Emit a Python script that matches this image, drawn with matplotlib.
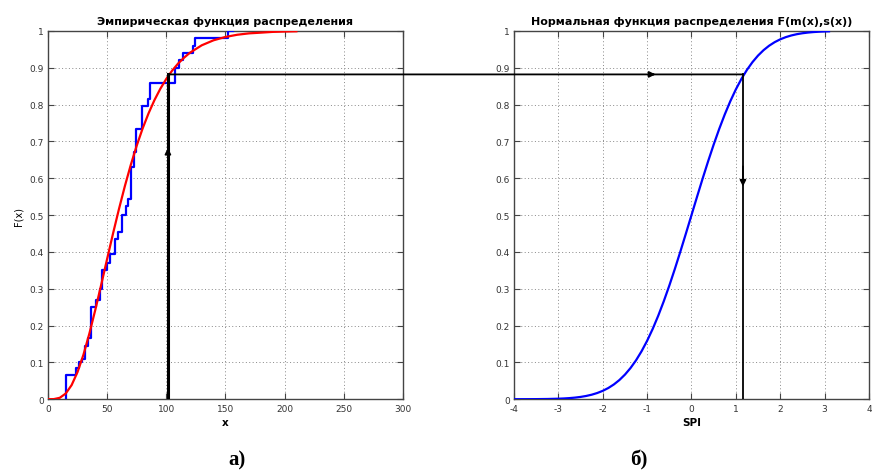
import numpy as np
import matplotlib.pyplot as plt
from matplotlib.patches import ConnectionPatch

plt.rcParams['axes.unicode_minus'] = False

# Эмпирическая функция распределения: ступени (x, уровень после скачка)
emp_x = [15.2, 23.7, 26.5, 28.5, 31.3, 34.1, 36.3, 41.0, 43.9, 45.3, 50.1, 52.4,
         56.6, 59.4, 62.2, 65.6, 67.9, 70.2, 72.5, 74.4, 79.2, 84.8, 86.2,
         107.4, 111.0, 114.5, 122.8, 124.3, 152.5]
emp_F = [0.065, 0.084, 0.100, 0.110, 0.145, 0.165, 0.250, 0.270, 0.300, 0.350, 0.370, 0.395,
         0.435, 0.455, 0.500, 0.525, 0.545, 0.630, 0.670, 0.734, 0.795, 0.815, 0.858,
         0.899, 0.920, 0.940, 0.958, 0.980, 1.000]

# Теоретическая (красная) кривая
fit_x = [0, 5, 10, 15, 20, 25, 30, 35, 40, 45, 50, 55, 60, 65, 70, 75, 80, 85, 90, 95,
         100, 105, 110, 115, 120, 130, 140, 150, 160, 170, 180, 190, 200, 210]
fit_F = [0.0, 0.0003, 0.0038, 0.0154, 0.0383, 0.0738, 0.1208, 0.1782, 0.2424, 0.3108,
         0.3807, 0.4499, 0.5162, 0.5786, 0.6362, 0.6883, 0.7350, 0.7761, 0.8121, 0.8431,
         0.8697, 0.8924, 0.9115, 0.9273, 0.9409, 0.9611, 0.9747, 0.9837, 0.9897, 0.9935,
         0.9954, 0.9975, 0.9984, 0.9991]

# Нормальная функция распределения (правый график)
spi_x = [-4, -3.75, -3.5, -3.25, -3, -2.875, -2.75, -2.625, -2.5, -2.375, -2.25, -2.125,
         -2, -1.875, -1.75, -1.625, -1.5, -1.375, -1.25, -1.125, -1, -0.875, -0.75,
         -0.625, -0.5, -0.375, -0.25, -0.125, 0, 0.125, 0.25, 0.375, 0.5, 0.625, 0.75,
         0.875, 1, 1.125, 1.25, 1.375, 1.5, 1.625, 1.75, 1.875, 2, 2.125, 2.25, 2.375,
         2.5, 2.625, 2.75, 2.875, 3, 3.1]
spi_F = [0.00003, 0.00009, 0.00023, 0.00058, 0.00135, 0.00202, 0.00298, 0.00433, 0.00621,
         0.00877, 0.01222, 0.01679, 0.02275, 0.03040, 0.04006, 0.05208, 0.06681, 0.08457,
         0.10565, 0.13029, 0.15866, 0.19079, 0.22663, 0.26599, 0.30854, 0.35383, 0.40129,
         0.45026, 0.5, 0.54974, 0.59871, 0.64617, 0.69146, 0.73401, 0.77337, 0.80921,
         0.84134, 0.86971, 0.89435, 0.91543, 0.93319, 0.94792, 0.95994, 0.96960, 0.97725,
         0.98321, 0.98778, 0.99123, 0.99379, 0.99567, 0.99702, 0.99798, 0.99865, 0.99903]

# точка перехода
x_emp = 101.4
F_lvl = 0.882
x_spi = 1.16

fig = plt.figure(figsize=(8.72, 4.77), dpi=100)
ax1 = fig.add_axes([0.055, 0.161, 0.407, 0.772])
ax2 = fig.add_axes([0.5895, 0.161, 0.407, 0.772])


def style(ax):
    ax.grid(True, linestyle=(0, (1, 2.5)), color='#888888', linewidth=0.7)
    ax.tick_params(direction='in', top=True, right=True, length=4,
                   labelsize=6.5, labelcolor='#333333', color='#444444')
    ax.tick_params(axis='x', pad=3.5)
    ax.tick_params(axis='y', pad=3)
    for s in ax.spines.values():
        s.set_color('#444444')
        s.set_linewidth(1.0)
    ax.set_ylim(0, 1)
    ax.set_yticks(np.arange(0, 1.01, 0.1))
    ax.set_yticklabels(['0', '0.1', '0.2', '0.3', '0.4', '0.5', '0.6', '0.7', '0.8', '0.9', '1'])


# --- а) ---
style(ax1)
ax1.set_xlim(0, 300)
ax1.set_xticks(np.arange(0, 301, 50))
stx = [emp_x[0]] + emp_x + [156]
stF = [0.0] + emp_F + [1.0]
ax1.step(stx, stF, where='post', color='#0000ff', lw=1.6, zorder=3)
ax1.plot(fit_x, fit_F, color='#ff0000', lw=1.6, zorder=4)
ax1.plot([x_emp, x_emp], [0, F_lvl], color='k', lw=2.2, zorder=5)
ax1.annotate('', xy=(x_emp, 0.69), xytext=(x_emp, 0.62),
             arrowprops=dict(arrowstyle='-|>', color='k', lw=1.2, mutation_scale=9), zorder=6)
ax1.set_title('Эмпирическая функция распределения', fontsize=8, fontweight='bold', pad=5)
ax1.set_xlabel('x', fontsize=7.5, fontweight='bold', labelpad=3)
ax1.set_ylabel('F(x)', fontsize=7, labelpad=4)

# --- б) ---
style(ax2)
ax2.set_xlim(-4, 4)
ax2.set_xticks(np.arange(-4, 5, 1))
ax2.plot(spi_x, spi_F, color='#0000ff', lw=1.6, zorder=3)
ax2.plot([x_spi, x_spi], [F_lvl, 0], color='k', lw=1.3, zorder=5)
ax2.annotate('', xy=(x_spi, 0.57), xytext=(x_spi, 0.64),
             arrowprops=dict(arrowstyle='-|>', color='k', lw=1.2, mutation_scale=9), zorder=6)
ax2.annotate('', xy=(-0.75, F_lvl), xytext=(-0.95, F_lvl),
             arrowprops=dict(arrowstyle='-|>', color='k', lw=1.2, mutation_scale=9), zorder=6)
ax2.set_title('Нормальная функция распределения F(m(x),s(x))', fontsize=8, fontweight='bold', pad=5)
ax2.set_xlabel('SPI', fontsize=7.5, fontweight='bold', labelpad=3)

# горизонтальная линия между графиками
con = ConnectionPatch(xyA=(x_emp, F_lvl), coordsA=ax1.transData,
                      xyB=(x_spi, F_lvl), coordsB=ax2.transData,
                      color='k', lw=1.3, zorder=10)
fig.add_artist(con)

fig.text(0.272, 0.025, 'а)', fontsize=15, fontweight='bold', family='Liberation Serif', ha='center')
fig.text(0.733, 0.025, 'б)', fontsize=15, fontweight='bold', family='Liberation Serif', ha='center')

fig.savefig('out.png', dpi=100)
